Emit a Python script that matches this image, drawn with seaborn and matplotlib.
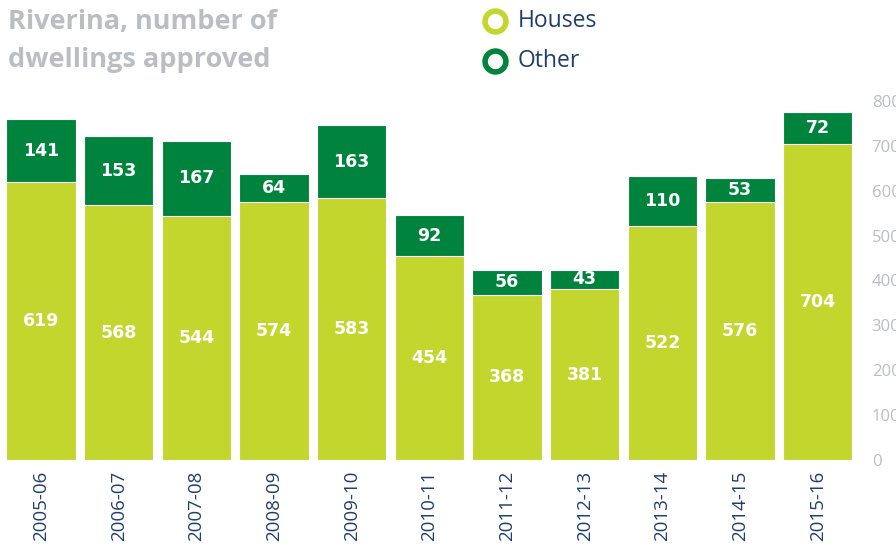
import matplotlib
matplotlib.use("Agg")
import matplotlib.pyplot as plt
from matplotlib.lines import Line2D
import seaborn as sns
import pandas as pd

years = ["2005-06", "2006-07", "2007-08", "2008-09", "2009-10", "2010-11",
         "2011-12", "2012-13", "2013-14", "2014-15", "2015-16"]
houses = [619, 568, 544, 574, 583, 454, 368, 381, 522, 576, 704]
other = [141, 153, 167, 64, 163, 92, 56, 43, 110, 53, 72]

light = "#C3D62E"
dark = "#00843D"
navy = "#1F3E6E"
grey = "#BABEC2"

df = pd.DataFrame({"year": years, "houses": houses, "other": other})
df["total"] = df["houses"] + df["other"]

sns.set_style("white")
plt.rcParams["font.family"] = ["Open Sans", "DejaVu Sans"]

W, H = 896, 548
fig = plt.figure(figsize=(W / 100, H / 100), dpi=100)
ax = fig.add_axes([6 / W, 1 - 460 / H, 849 / W, 359 / H])

sns.barplot(data=df, x="year", y="total", color=dark, width=0.89,
            saturation=1, edgecolor="white", linewidth=0.8, ax=ax)
sns.barplot(data=df, x="year", y="houses", color=light, width=0.89,
            saturation=1, edgecolor="white", linewidth=0.8, ax=ax)

for i, row in df.iterrows():
    ax.text(i, row["houses"] / 2, str(row["houses"]), ha="center", va="center",
            color="white", fontsize=12.5, fontweight="bold", family="DejaVu Sans")
    ax.text(i, row["houses"] + row["other"] / 2, str(row["other"]), ha="center",
            va="center", color="white", fontsize=12.5, fontweight="bold",
            family="DejaVu Sans")

ax.set_xlim(-0.45, 10.48)
ax.set_ylim(0, 800)
ax.set_yticks(range(0, 801, 100))
ax.yaxis.tick_right()
ax.tick_params(axis="y", colors=grey, labelsize=12, length=0, pad=12)
ax.tick_params(axis="x", colors=navy, labelsize=13.5, length=0, pad=8,
               labelrotation=90)
ax.set_xlabel("")
ax.set_ylabel("")
for s in ax.spines.values():
    s.set_visible(False)

fig.text(8 / W, 1 - 9 / H, "Riverina, number of\ndwellings approved",
         ha="left", va="top", fontsize=19.5, fontweight="bold", color=grey,
         linespacing=1.6)

# legend drawn by hand in figure coordinates
for yy, lab, col in [(21, "Houses", light), (61, "Other", dark)]:
    fig.add_artist(Line2D([495 / W], [1 - yy / H], transform=fig.transFigure,
                          marker="o", linestyle="", markersize=15,
                          markerfacecolor="white", markeredgecolor=col,
                          markeredgewidth=4))
    fig.text(518 / W, 1 - yy / H, lab, ha="left", va="center", fontsize=16.5,
             color=navy)

fig.savefig("out.png", dpi=100)
